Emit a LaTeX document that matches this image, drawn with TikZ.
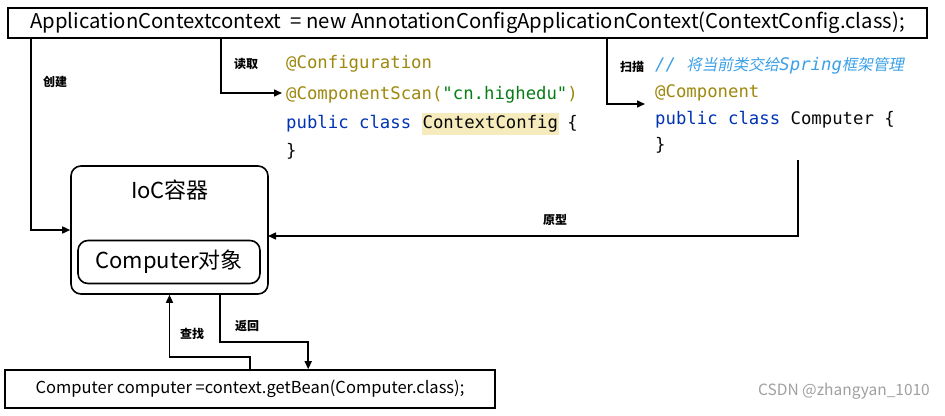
\documentclass[tikz,border=0pt]{standalone}
\usepackage{fontspec}
\setmainfont{Noto Sans CJK SC}
\newfontfamily\cjk{Noto Sans CJK SC}
\newfontfamily\cjkit[FakeSlant=0.2]{Noto Sans CJK SC}
\newfontfamily\codefont{DejaVu Sans Mono}
\usetikzlibrary{arrows.meta}
\definecolor{annot}{HTML}{9E880D}
\definecolor{strc}{HTML}{067D17}
\definecolor{kw}{HTML}{0033B3}
\definecolor{hl}{HTML}{F6EBBC}
\definecolor{cmt}{HTML}{3BA0E8}
\definecolor{codec}{HTML}{080808}
\definecolor{wm}{HTML}{A0A0A0}
\begin{document}
\begin{tikzpicture}[x=1pt,y=-1pt,
  box/.style={draw, line width=1.6pt, inner sep=0pt},
  rbox/.style={draw, line width=1.6pt, rounded corners=10pt, inner sep=0pt},
  arr/.style={line width=1.5pt, -{Triangle[length=8pt,width=7pt]}},
  lbl/.style={font=\fontsize{12}{14}\selectfont\bfseries, inner sep=0pt},
  code/.style={font=\codefont\fontsize{17.3}{20}\selectfont, text=codec, anchor=base west, inner sep=0pt},
  big/.style={font=\fontsize{22}{26}\selectfont, inner sep=0pt}]
\useasboundingbox (0,0) rectangle (945,415);
\fill[white] (0,0) rectangle (945,415);

% top statement
\node[box, minimum width=919pt, minimum height=30pt, font=\fontsize{20.3}{24}\selectfont] (top) at (467.5,23)
  {ApplicationContextcontext\ \ = new AnnotationConfigApplicationContext(ContextConfig.class);};

% code block 1
\node[code] (c1a) at (286,68) {\textcolor{annot}{@Configuration}};
\node[code] (c1b) at (286,99) {\textcolor{annot}{@ComponentScan(}\textcolor{strc}{"cn.highedu"}\textcolor{annot}{)}};
\node[code] (c1c) at (286,128) {\textcolor{kw}{public class} {\setlength{\fboxsep}{1pt}\colorbox{hl}{\strut ContextConfig}}\hspace{-2pt}\ \{};
\node[code] (c1d) at (286,156) {\}};

% code block 2
\node[code] (c2a) at (655,70) {\textcolor{cmt}{\itshape // {\cjkit\fontsize{15.5}{18}\selectfont 将当前类交给}Spring{\cjkit\fontsize{15.5}{18}\selectfont 框架管理}}};
\node[code] (c2b) at (655,97) {\textcolor{annot}{@Component}};
\node[code] (c2c) at (655,124) {\textcolor{kw}{public class} Computer \{};
\node[code] (c2d) at (655,150) {\}};

% IoC container
\node[rbox, minimum width=197pt, minimum height=128pt] (ioc) at (169.5,230) {};
\node[big] (ioct) at (170,190) {IoC容器};
\node[rbox, minimum width=182pt, minimum height=43pt, big] (obj) at (169,262) {Computer对象};

% bottom statement
\node[box, minimum width=490pt, minimum height=38pt, font=\fontsize{16.5}{20}\selectfont] (bot) at (250,389)
  {Computer computer =context.getBean(Computer.class);};

% watermark
\node[font=\fontsize{15.5}{18}\selectfont, text=wm, anchor=base east, inner sep=0pt] (wmk) at (930,395) {CSDN @zhangyan\_1010};

% coordinates
\coordinate (readend) at (282,93);
\coordinate (scanend) at (645,104);
\coordinate (protostart) at (798,160);
\coordinate (protoend) at (268,236);

% connectors
\draw[arr] ([xshift=24pt]top.south west) |- (ioc.west);
\node[lbl] (l1) at (55,82) {创建};
\draw[arr] ([xshift=214pt]top.south west) |- (readend);
\node[lbl] (l2) at (246,64) {读取};
\draw[arr] ([xshift=600pt]top.south west) |- (scanend);
\node[lbl] (l3) at (632,67) {扫描};
\draw[arr] (protostart) |- (protoend);
\node[lbl] (l4) at (555,220) {原型};
\draw[arr] ([xshift=246pt]bot.north west) -- ++(0,-12) -| (ioc.south);
\node[lbl] (l5) at (192,334) {查找};
\draw[arr] ([xshift=150pt]ioc.south west) -- ++(0,47) -| ([xshift=304pt]bot.north west);
\node[lbl] (l6) at (247,326) {返回};
\end{tikzpicture}
\end{document}
